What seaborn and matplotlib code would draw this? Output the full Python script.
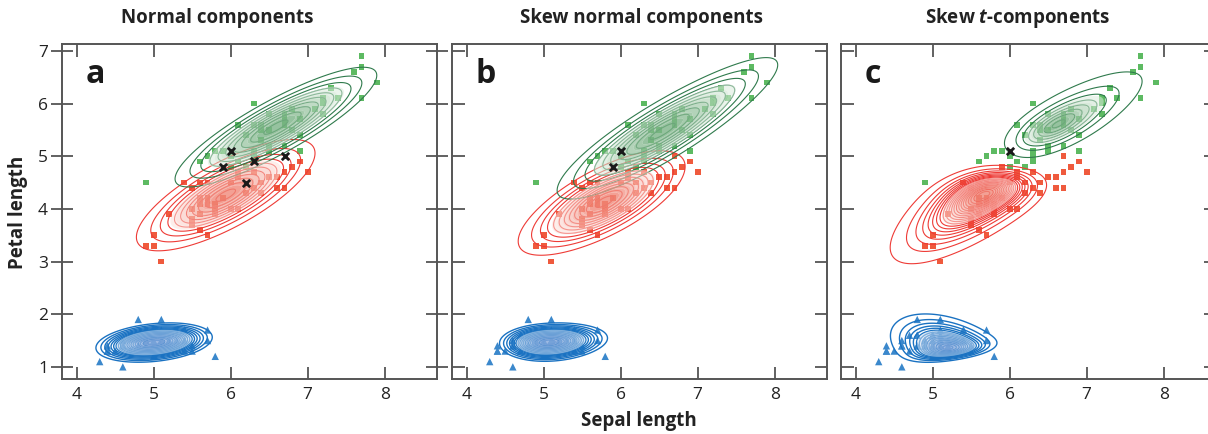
import numpy as np
import pandas as pd
import matplotlib
matplotlib.use("Agg")
import matplotlib.pyplot as plt
import seaborn as sns
from matplotlib.colors import to_rgba

# ---------------- data (iris: sepal length, petal length) ----------------
setosa_sepal = [5.1, 4.9, 4.7, 4.6, 5.0, 5.4, 4.6, 5.0, 4.4, 4.9, 5.4, 4.8, 4.8, 4.3, 5.8, 5.7, 5.4, 5.1, 5.7, 5.1,
                5.4, 5.1, 4.6, 5.1, 4.8, 5.0, 5.0, 5.2, 5.2, 4.7, 4.8, 5.4, 5.2, 5.5, 4.9, 5.0, 5.5, 4.9, 4.4, 5.1,
                5.0, 4.5, 4.4, 5.0, 5.1, 4.8, 5.1, 4.6, 5.3, 5.0]
setosa_petal = [1.4, 1.4, 1.3, 1.5, 1.4, 1.7, 1.4, 1.5, 1.4, 1.5, 1.5, 1.6, 1.4, 1.1, 1.2, 1.5, 1.3, 1.4, 1.7, 1.5,
                1.7, 1.5, 1.0, 1.7, 1.9, 1.6, 1.6, 1.5, 1.4, 1.6, 1.6, 1.5, 1.5, 1.4, 1.5, 1.2, 1.3, 1.4, 1.3, 1.5,
                1.3, 1.3, 1.3, 1.6, 1.9, 1.4, 1.6, 1.4, 1.5, 1.4]
versicolor_sepal = [7.0, 6.4, 6.9, 5.5, 6.5, 5.7, 6.3, 4.9, 6.6, 5.2, 5.0, 5.9, 6.0, 6.1, 5.6, 6.7, 5.6, 5.8, 6.2, 5.6,
                    5.9, 6.1, 6.3, 6.1, 6.4, 6.6, 6.8, 6.7, 6.0, 5.7, 5.5, 5.5, 5.8, 6.0, 5.4, 6.0, 6.7, 6.3, 5.6, 5.5,
                    5.5, 6.1, 5.8, 5.0, 5.6, 5.7, 5.7, 6.2, 5.1, 5.7]
versicolor_petal = [4.7, 4.5, 4.9, 4.0, 4.6, 4.5, 4.7, 3.3, 4.6, 3.9, 3.5, 4.2, 4.0, 4.7, 3.6, 4.4, 4.5, 4.1, 4.5, 3.9,
                    4.8, 4.0, 4.9, 4.7, 4.3, 4.4, 4.8, 5.0, 4.5, 3.5, 3.8, 3.7, 3.9, 5.1, 4.5, 4.5, 4.7, 4.4, 4.1, 4.0,
                    4.4, 4.6, 4.0, 3.3, 4.2, 4.2, 4.2, 4.3, 3.0, 4.1]
virginica_sepal = [6.3, 5.8, 7.1, 6.3, 6.5, 7.6, 4.9, 7.3, 6.7, 7.2, 6.5, 6.4, 6.8, 5.7, 5.8, 6.4, 6.5, 7.7, 7.7, 6.0,
                   6.9, 5.6, 7.7, 6.3, 6.7, 7.2, 6.2, 6.1, 6.4, 7.2, 7.4, 7.9, 6.4, 6.3, 6.1, 7.7, 6.3, 6.4, 6.0, 6.9,
                   6.7, 6.9, 5.8, 6.8, 6.7, 6.7, 6.3, 6.5, 6.2, 5.9]
virginica_petal = [6.0, 5.1, 5.9, 5.6, 5.8, 6.6, 4.5, 6.3, 5.8, 6.1, 5.1, 5.3, 5.5, 5.0, 5.1, 5.3, 5.5, 6.7, 6.9, 5.0,
                   5.7, 4.9, 6.7, 4.9, 5.7, 6.0, 4.8, 4.9, 5.6, 5.8, 6.1, 6.4, 5.5, 5.1, 5.6, 6.1, 5.6, 5.5, 4.8, 5.4,
                   5.6, 5.1, 5.1, 5.9, 5.7, 5.2, 5.0, 5.2, 5.4, 5.1]

# misclassified versicolor observations (index into versicolor lists) per panel
misclassified = {
    "a": [18, 20, 22, 27, 33],
    "b": [20, 33],
    "c": [33],
}

panel_titles = ["Normal components", "Skew normal components", "Skew $\\mathbfit{t}$-components"]
panel_letters = ["a", "b", "c"]
x_ticks = [4, 5, 6, 7, 8]
y_ticks = [1, 2, 3, 4, 5, 6, 7]

# component parameters (order: setosa, versicolor, virginica)
normal_xi = [[5.006, 1.462], [5.936, 4.260], [6.588, 5.552]]
normal_scale = [[0.352, 0.174], [0.516, 0.470], [0.636, 0.552]]
normal_rho = [0.27, 0.754, 0.864]
normal_alpha = [[0.0, 0.0], [0.0, 0.0], [0.0, 0.0]]

skewn_xi = [[4.85, 1.42], [6.05, 4.35], [6.15, 5.10]]
skewn_scale = [[0.42, 0.18], [0.56, 0.50], [0.80, 0.75]]
skewn_rho = [0.30, 0.78, 0.92]
skewn_alpha = [[1.2, 0.3], [-0.6, -0.3], [0.5, 0.5]]

skewt_xi = [[5.28, 1.25], [5.85, 4.50], [6.40, 5.40]]
skewt_scale = [[0.34, 0.31], [0.50, 0.55], [0.55, 0.50]]
skewt_rho = [-0.45, 0.80, 0.85]
skewt_alpha = [[-1.0, 3.5], [-0.5, -2.5], [0.8, 0.8]]
skewt_nu = [10.0, 8.0, 4.0]

# ---------------- style ----------------
sns.set_theme(style="white")
plt.rcParams["font.family"] = ["Open Sans", "DejaVu Sans"]
plt.rcParams["mathtext.fontset"] = "custom"
plt.rcParams["mathtext.bfit"] = "Open Sans:bold:italic"

COL_PTS = ["#3b88cc", "#ef5a3d", "#5dba62"]
COL_LINE = ["#1a72c2", "#ee3b36", "#2f7a4c"]
FILL_LO = ["#cfe0f3", "#fce0da", "#dcecdd"]
FILL_HI = ["#86a9dc", "#f0897a", "#7cb387"]
N_LINES = {"a": [20, 11, 10], "b": [20, 12, 10], "c": [16, 22, 8]}
LO_FRAC = {"a": [0.10, 0.08, 0.12], "b": [0.10, 0.08, 0.10], "c": [0.07, 0.04, 0.10]}
LW = [1.0, 0.8, 0.8]


def erf(x):
    s = np.sign(x)
    a = np.abs(x)
    t = 1.0 / (1.0 + 0.3275911 * a)
    y = 1 - (((((1.061405429 * t - 1.453152027) * t) + 1.421413741) * t - 0.284496736) * t
             + 0.254829592) * t * np.exp(-a * a)
    return s * y


def density(X, Y, xi, sc, rho, alpha, nu=None):
    zx = (X - xi[0]) / sc[0]
    zy = (Y - xi[1]) / sc[1]
    Q = (zx ** 2 - 2 * rho * zx * zy + zy ** 2) / (1 - rho ** 2)
    w = alpha[0] * zx + alpha[1] * zy
    if nu is None:
        base = np.exp(-Q / 2)
    else:
        base = (1 + Q / nu) ** (-(nu + 2) / 2)
        w = w * np.sqrt((nu + 2) / (Q + nu))
    return base * 0.5 * (1 + erf(w / np.sqrt(2)))


gx = np.linspace(3.5, 9.0, 600)
gy = np.linspace(0.5, 7.5, 700)
GX, GY = np.meshgrid(gx, gy)

W, H = 1208, 434
fig = plt.figure(figsize=(W / 100, H / 100), dpi=100)
lefts = [62, 452, 841]
axw = 375
bottom, axh = 55, 335

params = {
    "a": (normal_xi, normal_scale, normal_rho, normal_alpha, [None, None, None]),
    "b": (skewn_xi, skewn_scale, skewn_rho, skewn_alpha, [None, None, None]),
    "c": (skewt_xi, skewt_scale, skewt_rho, skewt_alpha, skewt_nu),
}

species_sepal = [setosa_sepal, versicolor_sepal, virginica_sepal]
species_petal = [setosa_petal, versicolor_petal, virginica_petal]
markers = ["^", "s", "s"]
msizes = [28, 18, 18]

for k, key in enumerate(panel_letters):
    ax = fig.add_axes([lefts[k] / W, bottom / H, axw / W, axh / H])
    xi_l, sc_l, rho_l, al_l, nu_l = params[key]
    mis = misclassified[key]

    # points
    for s in range(3):
        df = pd.DataFrame({"sepal": species_sepal[s], "petal": species_petal[s]})
        if s == 1:
            df = df.drop(index=mis)
        sns.scatterplot(data=df, x="sepal", y="petal", marker=markers[s], s=msizes[s],
                        color=COL_PTS[s], edgecolor="none", linewidth=0, ax=ax, zorder=2)

    # components
    for s in range(3):
        Z = density(GX, GY, xi_l[s], sc_l[s], rho_l[s], al_l[s], nu_l[s])
        peak = Z.max()
        lv = peak * np.linspace(LO_FRAC[key][s], 0.97, N_LINES[key][s])
        ax.contour(GX, GY, Z, levels=lv, colors=COL_LINE[s], linewidths=LW[s], zorder=3)
        nf = 8
        flv = peak * np.linspace(0.38, 1.0001, nf + 1)
        c0 = np.array(to_rgba(FILL_LO[s]))
        c1 = np.array(to_rgba(FILL_HI[s]))
        cols = []
        for i in range(nf):
            t = i / (nf - 1)
            c = c0 * (1 - t) + c1 * t
            c[3] = 0.55 + 0.25 * t
            cols.append(tuple(c))
        ax.contourf(GX, GY, Z, levels=flv, colors=cols, zorder=4, antialiased=True)

    # misclassified
    ax.scatter([versicolor_sepal[i] for i in mis], [versicolor_petal[i] for i in mis],
               marker="x", s=28, color="#1a1a1a", linewidths=2.0, zorder=6)

    ax.set_xlim(3.81, 8.68)
    ax.set_ylim(0.77, 7.13)
    ax.set_xticks(x_ticks)
    ax.set_yticks(y_ticks)
    ax.set_xlabel("")
    ax.set_ylabel("")
    for sp in ax.spines.values():
        sp.set_color("#555555")
        sp.set_linewidth(1.4)
        sp.set_visible(True)
    ax.tick_params(axis="x", direction="in", length=9, width=1.3, color="#555555",
                   top=True, bottom=True, labelsize=12.5, pad=6, labelcolor="#222222")
    ax.tick_params(axis="y", direction="in", length=9, width=1.3, color="#555555",
                   left=True, right=True, labelsize=12.5, pad=2, labelcolor="#222222")
    if k == 0:
        ax.tick_params(axis="y", which="both", direction="inout", length=16, left=True)
    else:
        ax.tick_params(axis="y", labelleft=False)
    ax.text(0.064, 0.884, panel_letters[k], transform=ax.transAxes, fontsize=23,
            fontweight="bold", color="#1a1a1a", ha="left", va="baseline")

title_x = [217, 641, 1018]
for k in range(3):
    fig.text(title_x[k] / W, 1 - 18 / H, panel_titles[k], ha="center", va="center",
             fontsize=13.5, fontweight="bold", color="#222222")

fig.text(639 / W, (H - 426) / H, "Sepal length", ha="center", va="baseline",
         fontsize=13.5, fontweight="bold", color="#222222")
fig.text(18 / W, 1 - 212 / H, "Petal length", ha="center", va="center", rotation=90,
         fontsize=13.5, fontweight="bold", color="#222222")

fig.savefig("out.png", dpi=100)
